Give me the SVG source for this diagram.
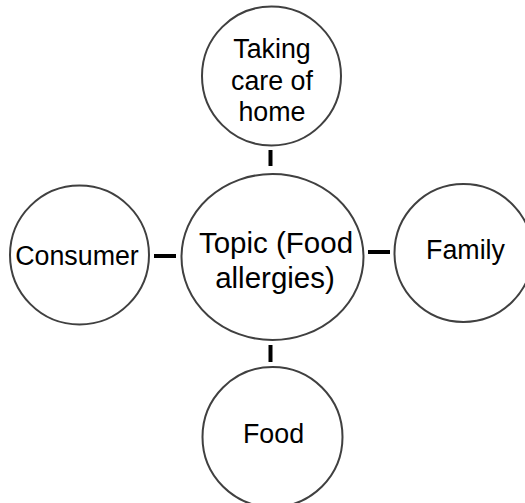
<svg xmlns="http://www.w3.org/2000/svg" width="525" height="503" viewBox="0 0 525 503">
  <style>
    .node { fill: #ffffff; stroke: #404040; stroke-width: 2; }
    .label { font-family: "Liberation Sans", Arial, sans-serif; font-size: 26.8px; fill: #000000; text-anchor: middle; }
    .label-main { font-size: 29.5px; }
    .link { stroke: #000000; stroke-width: 4; fill: none; }
  </style>
  <rect width="525" height="503" fill="#ffffff"/>

  <g id="connectors">
    <line class="link" x1="270.5" y1="150" x2="270.5" y2="166"/>
    <line class="link" x1="270.5" y1="345" x2="270.5" y2="362"/>
    <line class="link" x1="154" y1="256" x2="176" y2="256"/>
    <line class="link" x1="368" y1="252" x2="390" y2="252"/>
  </g>

  <g id="node-home">
    <circle class="node" cx="271.5" cy="76" r="69.5"/>
    <text class="label" x="272" y="58">Taking</text>
    <text class="label" x="272" y="90">care of</text>
    <text class="label" x="272" y="121">home</text>
  </g>

  <g id="node-topic">
    <ellipse class="node" cx="272.5" cy="257" rx="91" ry="83"/>
    <text class="label label-main" x="276" y="253">Topic (Food</text>
    <text class="label label-main" x="275" y="288">allergies)</text>
  </g>

  <g id="node-consumer">
    <circle class="node" cx="79.5" cy="255" r="69.5"/>
    <text class="label" x="77" y="265">Consumer</text>
  </g>

  <g id="node-family">
    <circle class="node" cx="463.5" cy="253" r="69"/>
    <text class="label" x="465.5" y="259">Family</text>
  </g>

  <g id="node-food">
    <circle class="node" cx="272.5" cy="437" r="70"/>
    <text class="label" x="273.5" y="443">Food</text>
  </g>
</svg>
